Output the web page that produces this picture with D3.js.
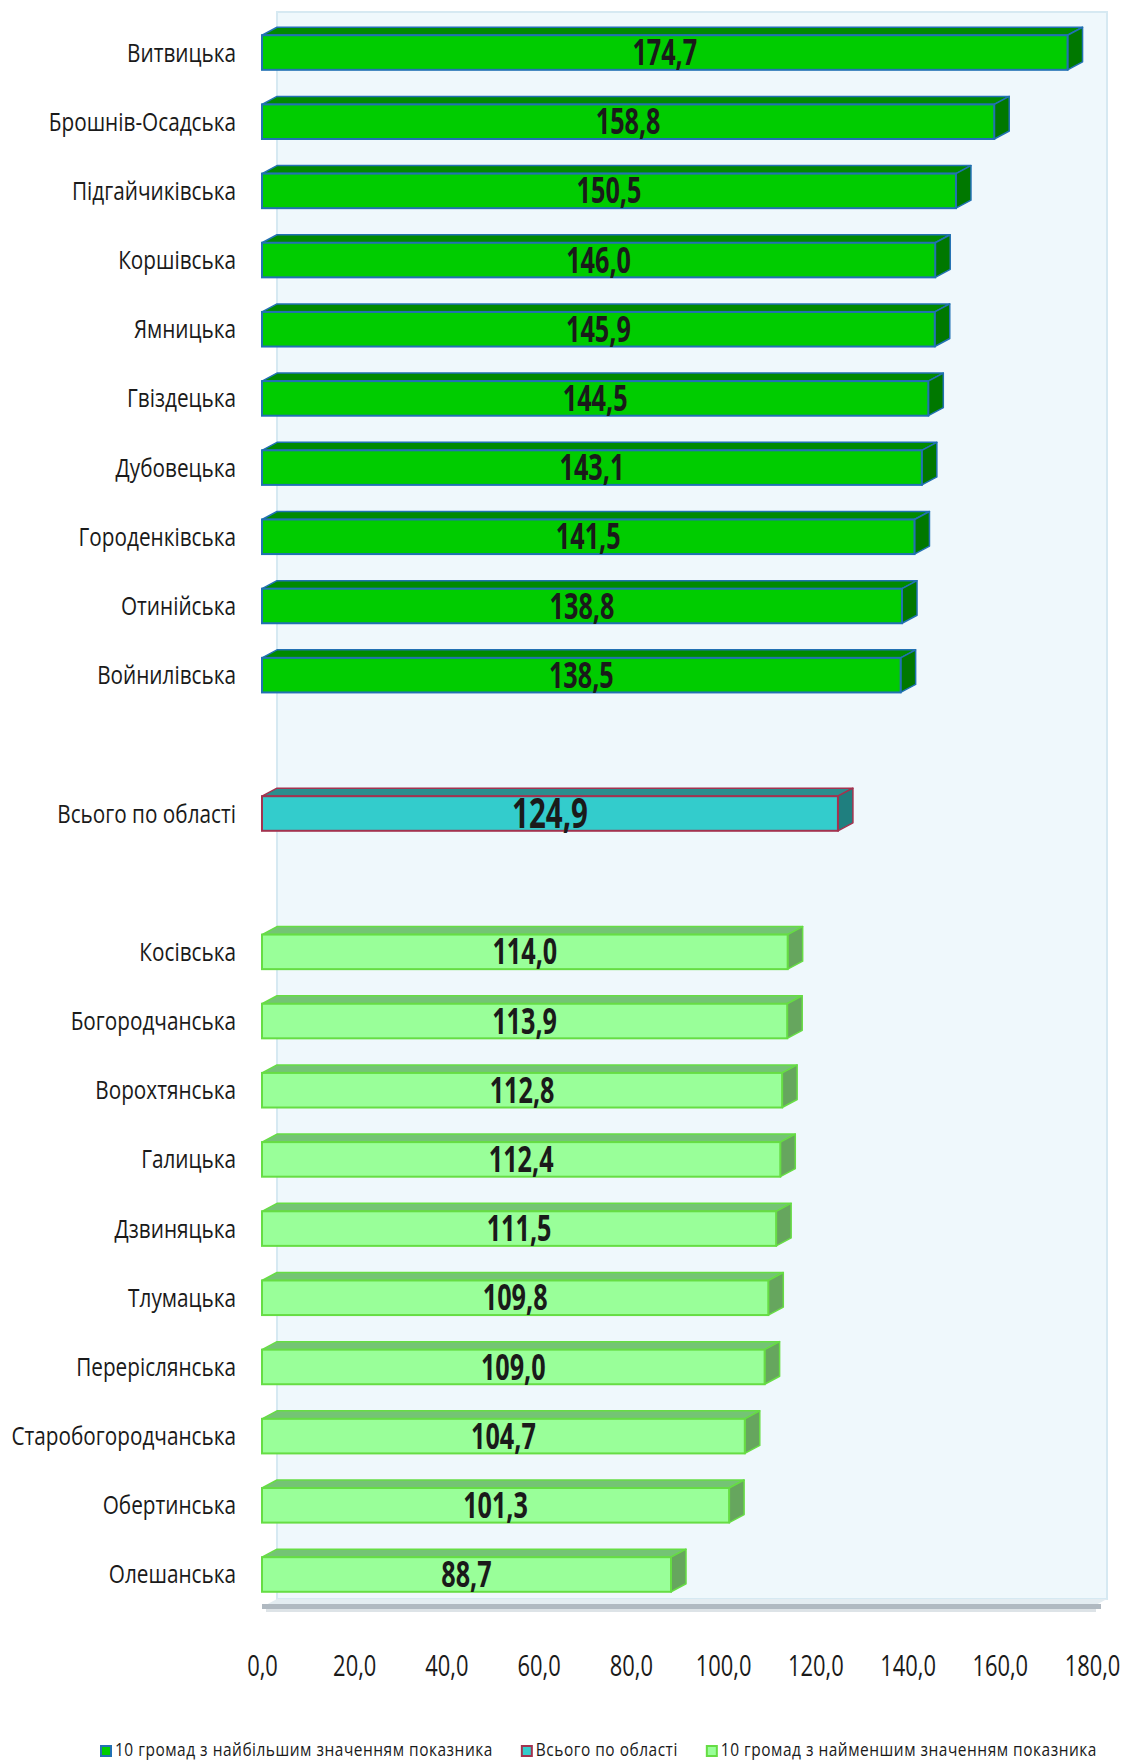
<!DOCTYPE html>
<html>
<head>
<meta charset="utf-8">
<script src="https://cdn.jsdelivr.net/npm/d3@7"></script>
<style>
  body { margin: 0; background: #fff; }
  text { font-family: "Open Sans", sans-serif; fill: #1a1a1a; }
</style>
</head>
<body>
<div id="chart"></div>
<script>
// top 10 communities
var topNames = ["Витвицька", "Брошнів-Осадська", "Підгайчиківська", "Коршівська", "Ямницька",
                "Гвіздецька", "Дубовецька", "Городенківська", "Отинійська", "Войнилівська"];
var topValues = [174.7, 158.8, 150.5, 146.0, 145.9, 144.5, 143.1, 141.5, 138.8, 138.5];

// region total
var totalName = "Всього по області";
var totalValue = 124.9;

// bottom 10 communities
var bottomNames = ["Косівська", "Богородчанська", "Ворохтянська", "Галицька", "Дзвиняцька",
                   "Тлумацька", "Переріслянська", "Старобогородчанська", "Обертинська", "Олешанська"];
var bottomValues = [114.0, 113.9, 112.8, 112.4, 111.5, 109.8, 109.0, 104.7, 101.3, 88.7];

var xTicks = [0, 20, 40, 60, 80, 100, 120, 140, 160, 180];
var legendLabels = ["10 громад з найбільшим значенням показника", "Всього по області",
                    "10 громад з найменшим значенням показника"];

var styles = [
  {front: "#00cc00", top: "#008a00", side: "#007800", stroke: "#2271b3"},
  {front: "#33cccc", top: "#2a8e8e", side: "#1f7f7f", stroke: "#a3334f"},
  {front: "#99ff99", top: "#74c474", side: "#66a65e", stroke: "#66dd44"}
];

// rows in chart order, with two empty slots around the total
var rows = [];
topNames.forEach(function(n, i) { rows.push({name: n, value: topValues[i], s: 0}); });
rows.push({name: "", value: null, s: -1});
rows.push({name: totalName, value: totalValue, s: 1});
rows.push({name: "", value: null, s: -1});
bottomNames.forEach(function(n, i) { rows.push({name: n, value: bottomValues[i], s: 2}); });

var W = 1132, H = 1762;
var dx = 15, dy = 8;   // 3d depth

var svg = d3.select("#chart").append("svg")
  .attr("width", W).attr("height", H);

var x = d3.scaleLinear().domain([0, 180]).range([262, 1092]);
var y = d3.scaleBand().domain(d3.range(rows.length))
  .range([20, 1607]).paddingInner(0.5).paddingOuter(0.22);

var fmt = function(v) { return d3.format(".1f")(v).replace(".", ","); };

// back wall
svg.append("rect")
  .attr("x", x(0) + dx).attr("y", 20 - dy)
  .attr("width", x(180) - x(0)).attr("height", 1607 - 20)
  .attr("fill", "#eff8fc").attr("stroke", "#d6e9f2").attr("stroke-width", 2);

// floor
svg.append("path")
  .attr("d", "M" + x(0) + ",1607L" + (x(0) + dx) + "," + (1607 - dy) + "L" + (x(180) + dx) + "," + (1607 - dy) +
             "L" + x(180) + ",1607Z")
  .attr("fill", "#e3ecf1");
svg.append("rect")
  .attr("x", x(0)).attr("y", 1604).attr("width", x(180) - x(0) + dx * 0.6).attr("height", 5)
  .attr("fill", "#b0b9c1");
svg.append("rect")
  .attr("x", x(0) + 4).attr("y", 1609).attr("width", x(180) - x(0)).attr("height", 3)
  .attr("fill", "#dde3e7");

var bars = svg.selectAll(".bar")
  .data(rows.filter(function(d) { return d.value !== null; }))
  .enter().append("g")
  .attr("class", "bar");

bars.each(function(d) {
  var g = d3.select(this);
  var st = styles[d.s];
  var x0 = x(0), x1 = x(d.value);
  var y0 = y(rows.indexOf(d)), bh = y.bandwidth();
  g.append("path")
    .attr("d", "M" + x0 + "," + y0 + "L" + (x0 + dx) + "," + (y0 - dy) + "L" + (x1 + dx) + "," + (y0 - dy) +
               "L" + x1 + "," + y0 + "Z")
    .attr("fill", st.top).attr("stroke", st.stroke).attr("stroke-width", 1.5).attr("stroke-linejoin", "round");
  g.append("path")
    .attr("d", "M" + x1 + "," + y0 + "L" + (x1 + dx) + "," + (y0 - dy) + "L" + (x1 + dx) + "," + (y0 + bh - dy) +
               "L" + x1 + "," + (y0 + bh) + "Z")
    .attr("fill", st.side).attr("stroke", st.stroke).attr("stroke-width", 1.5).attr("stroke-linejoin", "round");
  g.append("rect")
    .attr("x", x0).attr("y", y0).attr("width", x1 - x0).attr("height", bh)
    .attr("fill", st.front).attr("stroke", st.stroke).attr("stroke-width", 2);
  g.append("text")
    .attr("transform", "translate(" + ((x0 + x1) / 2) + "," + (y0 + bh / 2) + ") scale(0.72,1)")
    .attr("text-anchor", "middle")
    .attr("dy", "0.36em")
    .style("font-weight", "bold")
    .style("font-size", d.s === 1 ? "41px" : "35px")
    .text(fmt(d.value));
});

// category labels
var yAxis = d3.axisLeft(y).tickSize(0).tickPadding(0)
  .tickFormat(function(i) { return rows[i].name; });
var ya = svg.append("g").attr("transform", "translate(236,0)").call(yAxis);
ya.select(".domain").remove();
ya.selectAll("text")
  .attr("x", 0).attr("dy", "0.36em")
  .attr("transform", "scale(0.83,1)")
  .style("font-size", "25px").style("font-family", "Open Sans");

// x axis labels
var xAxis = d3.axisBottom(x).tickValues(xTicks).tickSize(0).tickPadding(0).tickFormat(fmt);
var xa = svg.append("g").attr("transform", "translate(0,1665)").call(xAxis);
xa.select(".domain").remove();
xa.selectAll("text")
  .attr("y", 0).attr("dy", "0.36em")
  .attr("transform", "scale(0.73,1)")
  .style("font-size", "30px").style("font-family", "Open Sans");

// legend
var ls = 0.86;
var lg = svg.append("g").attr("transform", "translate(100,1745)");
var lx = 0;
legendLabels.forEach(function(t, i) {
  var item = lg.append("g").attr("transform", "translate(" + lx + ",0)");
  item.append("rect").attr("x", 1).attr("y", 1).attr("width", 10).attr("height", 10)
    .attr("fill", styles[i].front).attr("stroke", styles[i].stroke).attr("stroke-width", 2);
  var tx = item.append("text")
    .attr("transform", "translate(15,11) scale(" + ls + ",1)")
    .style("font-size", "18px")
    .style("letter-spacing", "0.6px")
    .text(t);
  lx += 15 + tx.node().getComputedTextLength() * ls + 28;
});
</script>
</body>
</html>
